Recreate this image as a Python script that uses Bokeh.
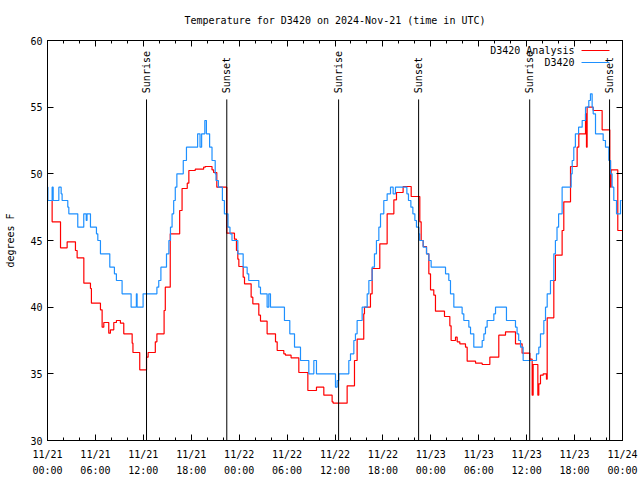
import math
from bokeh.plotting import figure
from bokeh.models import FixedTicker, LinearAxis, Range1d, Label
from bokeh.core.properties import value
from bokeh.embed import file_html
from bokeh.resources import INLINE

# ---- data (hours since 2024-11-21 00:00 UTC) ----
obs_hours = [0.0, 0.05, 0.58, 0.71, 1.42, 1.71, 1.83, 2.54, 2.67, 3.79, 4.54, 4.85, 4.95, 5.38, 6.13,
             6.3, 6.63, 7.8, 8.38, 8.63, 9.34, 10.47, 11.13, 11.22, 11.97, 13.7, 13.93, 14.2, 14.9,
             15.2, 15.4, 15.6, 15.8, 16.0, 16.2, 17.0, 17.4, 18.8, 19.1, 19.3, 19.7, 19.9, 20.3, 20.6,
             21.0, 21.1, 21.4, 21.9, 22.15, 22.6, 22.85, 23.1, 23.83, 24.5, 25.0, 25.2, 26.46, 26.67,
             27.5, 27.71, 27.92, 29.67, 30.34, 30.93, 31.68, 32.72, 33.35, 33.68, 36.06, 36.27, 36.48,
             37.73, 37.94, 38.36, 38.56, 38.77, 39.4, 40.03, 40.24, 40.65, 40.94, 41.19, 41.49, 41.7,
             42.11, 42.53, 42.95, 43.28, 43.57, 45.0, 45.2, 45.5, 45.75, 46.0, 46.2, 46.5, 46.6, 47.04,
             47.46, 47.75, 48.04, 49.84, 50.25, 50.46, 50.88, 51.92, 52.13, 52.76, 52.97, 53.38, 54.43,
             54.64, 54.84, 55.05, 55.89, 56.1, 57.47, 58.6, 58.8, 59.0, 59.23, 59.56, 61.23, 61.52,
             61.73, 62.15, 62.36, 62.57, 62.98, 63.4, 63.6, 63.8, 64.0, 64.44, 65.57, 65.7, 65.9, 66.1,
             66.5, 66.95, 67.37, 67.78, 67.99, 68.2, 68.33, 68.62, 69.58, 69.87, 70.29, 70.5, 70.7,
             70.91, 71.25, 71.75, 71.9]
obs_temp = [49, 48, 49, 48, 49, 48.5, 48, 47.5, 47, 46, 47, 46.5, 47, 46, 45.5,
            45, 44, 43, 42.5, 42, 41, 40, 41, 40, 41, 41.5, 42, 43, 44,
            45, 46, 47, 48, 49, 50, 51, 52, 53, 52, 53, 54, 53, 52, 51,
            50, 49.5, 49, 48, 47, 46, 45.5, 45, 44, 43, 42.5, 42, 41.5, 41,
            40, 41, 40, 39, 38, 37, 36, 35, 36, 35, 34, 34.5, 35,
            36, 36.5, 37.5, 38, 39, 40, 41, 42, 43, 44, 45, 46, 47,
            48, 48.5, 49, 48.5, 49, 48.5, 48, 47.5, 47, 46.5, 46, 45.5, 45, 44.5,
            44, 43.5, 43, 42.5, 42, 41, 40, 39.5, 39, 38.5, 38, 37, 37.5,
            38, 38.5, 39, 39.5, 40, 39, 38.5, 38, 37.5, 37, 36, 36.5, 37,
            38, 39, 40, 41, 42, 44, 45, 46, 47, 49, 50, 51, 52, 53,
            53.5, 54, 55, 55.5, 56, 55, 54.5, 53, 52.5, 52, 51, 50, 49,
            48, 47, 48, 48]

ana_hours = [0.0, 0.58, 1.63, 2.46, 3.5, 3.71, 4.55, 5.38, 5.5, 6.63, 6.84, 7.05, 7.67, 7.88, 8.3,
             8.63, 9.13, 9.55, 10.6, 10.7, 11.55, 12.4, 12.6, 13.5, 13.7, 14.6, 14.75, 15.37, 16.55,
             16.85, 17.5, 17.7, 18.5, 19.55, 19.76, 20.6, 20.8, 21.2, 22.45, 23.41, 23.66, 23.83,
             23.96, 24.5, 24.67, 25.5, 25.71, 26.46, 26.67, 27.5, 28.55, 28.76, 29.59, 29.8, 30.5,
             31.47, 32.6, 33.68, 34.6, 35.64, 35.77, 37.52, 38.44, 38.77, 39.6, 39.69, 40.44, 40.65,
             41.61, 42.53, 43.37, 43.7, 44.53, 45.54, 46.62, 46.79, 47.04, 47.46, 47.75, 47.96, 48.37,
             48.58, 49.71, 50.38, 50.54, 51.09, 51.3, 51.63, 52.34, 52.55, 53.6, 54.43, 55.39, 56.51,
             57.35, 58.6, 59.43, 60.4, 60.69, 60.81, 61.4, 61.52, 61.73, 62.07, 62.48, 62.57, 63.4,
             63.6, 64.44, 64.65, 65.49, 66.32, 66.53, 67.37, 67.49, 67.57, 68.33, 69.45, 70.41, 70.5,
             70.58, 71.41, 72.0]
ana_temp = [48.0, 46.4, 44.45, 44.9, 44.25, 43.7, 41.8, 41.4, 40.3, 39.8, 38.5, 38.85, 38.05, 38.3, 38.85,
            39.0, 38.8, 38.0, 37.3, 36.6, 35.3, 36.25, 36.6, 37.4, 38.0, 39.75, 41.5, 45.5, 47.25,
            48.9, 49.3, 50.25, 50.35, 50.5, 50.55, 50.3, 50.1, 49.0, 45.55, 45.1, 44.25, 43.6,
            43.05, 42.25, 41.75, 40.75, 40.25, 39.4, 38.95, 38.0, 37.4, 36.75, 36.5, 36.4, 36.2,
            35.1, 33.75, 34.0, 33.4, 32.9, 32.8, 34.1, 36.0, 37.6, 39.5, 40.0, 41.0, 42.9,
            44.75, 47.0, 48.05, 48.6, 49.05, 48.3, 46.4, 45.0, 44.55, 44.0, 42.5, 41.3, 40.9,
            39.7, 39.3, 38.6, 37.5, 37.75, 37.4, 37.25, 37.0, 35.95, 35.8, 35.7, 36.25, 37.9,
            38.15, 37.25, 36.55, 36.1, 33.4, 35.7, 33.4, 34.25, 34.9, 35.0, 34.6, 39.2, 42.0,
            43.9, 45.75, 47.9, 50.55, 52.0, 53.0, 54.5, 52.0, 55.0, 54.75, 53.3, 51.0, 49.0,
            50.3, 45.75, 45.75]

sunrise_hours = [12.4, 36.45, 60.38]
sunset_hours = [22.45, 46.47, 70.38]

x_tick_hours = [0, 6, 12, 18, 24, 30, 36, 42, 48, 54, 60, 66, 72]
x_tick_dates = ["11/21", "11/21", "11/21", "11/21", "11/22", "11/22", "11/22", "11/22",
                "11/23", "11/23", "11/23", "11/23", "11/24"]
x_tick_times = ["00:00", "06:00", "12:00", "18:00", "00:00", "06:00", "12:00", "18:00",
                "00:00", "06:00", "12:00", "18:00", "00:00"]
y_ticks = [30, 35, 40, 45, 50, 55, 60]

title_text = "Temperature for D3420 on 2024-Nov-21 (time in UTC)"
series_names = ["D3420 Analysis", "D3420"]
series_colors = ["#ff0000", "#1e90ff"]

FONT = "DejaVu Sans Mono"
FS = "10px"

p = figure(width=640, height=480, x_range=Range1d(0, 72), y_range=Range1d(30, 60),
           output_backend="svg", toolbar_location=None, title=title_text,
           min_border_left=47, min_border_right=18, min_border_top=40, min_border_bottom=40)
p.background_fill_color = "white"
p.border_fill_color = "white"
p.outline_line_color = "black"
p.outline_line_alpha = 1.0
p.xgrid.visible = False
p.ygrid.visible = False

p.title.align = "center"
p.title.vertical_align = "top"
p.title.standoff = 26
p.title.text_font = FONT
p.title.text_font_size = FS
p.title.text_font_style = "normal"
p.title.text_color = "black"

xt = FixedTicker(ticks=x_tick_hours, minor_ticks=list(range(0, 73, 2)))
yt = FixedTicker(ticks=y_ticks, minor_ticks=[])

xa = p.xaxis[0]
xa.ticker = xt
xa.major_label_overrides = {h: d + "\n" + t for h, d, t in zip(x_tick_hours, x_tick_dates, x_tick_times)}
ya = p.yaxis[0]
ya.ticker = yt
ya.axis_label = "degrees F"
ya.axis_label_standoff = 11
ya.axis_label_text_font = FONT
ya.axis_label_text_font_size = FS
ya.axis_label_text_font_style = "normal"
ya.axis_label_text_color = "black"

for ax in (xa, ya):
    ax.major_tick_in = 6
    ax.major_tick_out = 0
    ax.minor_tick_in = 3
    ax.minor_tick_out = 0
    ax.axis_line_color = "black"
    ax.major_tick_line_color = "black"
    ax.minor_tick_line_color = "black"
    ax.major_label_text_font = FONT
    ax.major_label_text_font_size = FS
    ax.major_label_text_color = "black"
xa.major_label_standoff = 8
xa.major_label_text_line_height = 1.5
ya.major_label_standoff = 5

for loc, tk, ticks in (("above", xt, x_tick_hours), ("right", yt, y_ticks)):
    m = LinearAxis(ticker=tk, major_label_standoff=0,
                   major_label_overrides={t: "" for t in ticks},
                   major_tick_in=6, major_tick_out=0, minor_tick_in=3, minor_tick_out=0,
                   axis_line_color="black", major_tick_line_color="black",
                   minor_tick_line_color="black")
    p.add_layout(m, loc)

# series
p.step(ana_hours, ana_temp, mode="after", line_color=series_colors[0], line_width=1.2)
p.step(obs_hours, obs_temp, mode="after", line_color=series_colors[1], line_width=1.2)

# sunrise / sunset markers
line_top = 55.58
label_bottom = 56.05
for hours, name in ((sunrise_hours, "Sunrise"), (sunset_hours, "Sunset")):
    p.segment(x0=hours, y0=[30] * len(hours), x1=hours, y1=[line_top] * len(hours),
              line_color="black", line_width=1)
    p.text(x=hours, y=[label_bottom] * len(hours), text=[name] * len(hours), angle=math.pi / 2,
           text_align="left", text_baseline="middle", text_font=value(FONT),
           text_font_size=FS, text_color="black")

# legend (gnuplot style: text left, sample right)
leg_text_x = 65.99
leg_x0, leg_x1 = 66.87, 70.37
leg_rows = [59.25, 58.35]
for name, col, yy in zip(series_names, series_colors, leg_rows):
    p.add_layout(Label(x=leg_text_x, y=yy, text=name, text_align="right", text_baseline="middle",
                       text_font=FONT, text_font_size=FS, text_color="black"))
    p.segment(x0=[leg_x0], y0=[yy], x1=[leg_x1], y1=[yy], line_color=col, line_width=1.2)

open("out.html", "w").write(file_html(p, INLINE))
